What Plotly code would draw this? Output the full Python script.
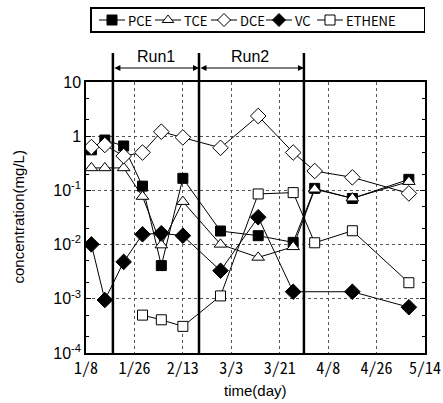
import datetime as _dt
import plotly.graph_objects as go

YEAR = "2007"
dates_md = ["01-10", "01-15", "01-22", "01-29", "02-05", "02-13", "02-27",
            "03-13", "03-26", "04-03", "04-17", "05-08"]
dates = [f"{YEAR}-{d}" for d in dates_md]

pce = [0.56, 0.85, 0.66, 0.12, 0.0041, 0.167, 0.0178, 0.0146, 0.011, 0.109, 0.071, 0.16]
tce = [0.26, 0.26, 0.26, 0.077, 0.0098, 0.062, 0.0101, 0.0058, 0.0091, 0.105, 0.072, 0.145]
dce = [0.63, 0.69, 0.43, 0.50, 1.21, 0.95, 0.61, 2.36, 0.50, 0.228, 0.174, 0.088]
vc = [0.0101, 0.00095, 0.0048, 0.0155, 0.0162, 0.0146, 0.0033, 0.032, 0.00135, None, 0.00135, 0.0007]
ethene = [None, None, None, 0.0005, 0.00041, 0.00031, 0.00113, 0.086, 0.091, 0.0108, 0.018, 0.00198]

tick_md = ["01-08", "01-26", "02-13", "03-03", "03-21", "04-08", "04-26", "05-14"]
tick_labels = ["1/8", "1/26", "2/13", "3/3", "3/21", "4/8", "4/26", "5/14"]
tick_dates = [f"{YEAR}-{d}" for d in tick_md]

run_bounds = [f"{YEAR}-01-18", f"{YEAR}-02-19", f"{YEAR}-03-30"]
run_labels = ["Run1", "Run2"]

y_tickvals = [1e-4, 1e-3, 1e-2, 1e-1, 1, 10]
y_ticktext = ["10<sup>-4</sup>", "10<sup>-3</sup>", "10<sup>-2</sup>", "10<sup>-1</sup>", "1", "10"]

series_names = ["PCE", "TCE", "DCE", "VC", "ETHENE"]
series_values = [pce, tce, dce, vc, ethene]
series_symbols = ["square", "triangle-up", "diamond", "diamond", "square"]
series_fills = ["black", "white", "white", "black", "white"]
series_sizes = [10, 11, 12, 12, 10]

# ---- layout constants (pixels) ----
PAPER_H = 353.0          # figure height minus bottom margin (top margin is 0)
PLOT_TOP = 82.0


def py(p):
    """pixel row -> paper y"""
    return (PAPER_H - p) / PAPER_H


leg_sym_center = [112, 168, 224, 279, 330]
leg_text_x = [126, 182, 238, 293, 344]
leg_half = 13
leg_y = 20
leg_box = (91, 8, 425, 32)

fig = go.Figure()
for name, vals, sym, fill, size in zip(series_names, series_values, series_symbols,
                                       series_fills, series_sizes):
    fig.add_trace(go.Scatter(
        x=dates, y=vals, name=name, mode="lines+markers", connectgaps=True,
        line=dict(color="black", width=1),
        marker=dict(symbol=sym, color=fill, size=size, line=dict(color="black", width=1)),
        xaxis="x", yaxis="y", showlegend=False,
    ))

# hand-made legend strip
for name, sym, fill, cx in zip(series_names, series_symbols, series_fills, leg_sym_center):
    fig.add_trace(go.Scatter(
        x=[cx - leg_half, cx + leg_half], y=[leg_y, leg_y], mode="lines",
        line=dict(color="black", width=1), xaxis="x2", yaxis="y2",
        showlegend=False, hoverinfo="skip"))
    fig.add_trace(go.Scatter(
        x=[cx], y=[leg_y], mode="markers",
        marker=dict(symbol=sym, color=fill, size=10, line=dict(color="black", width=1)),
        xaxis="x2", yaxis="y2", showlegend=False, hoverinfo="skip"))

shapes = []
for d in run_bounds:
    shapes.append(dict(type="line", xref="x", yref="paper", x0=d, x1=d, y0=0, y1=py(53),
                       line=dict(color="black", width=2.5)))
shapes.append(dict(type="rect", xref="x2", yref="y2", x0=leg_box[0], x1=leg_box[2],
                   y0=leg_box[1], y1=leg_box[3], line=dict(color="black", width=2)))

annotations = []
for i, lab in enumerate(run_labels):
    a, b = run_bounds[i], run_bounds[i + 1]
    annotations.append(dict(x=b, y=py(68), xref="x", yref="paper", ax=a, ay=0,
                            axref="x", ayref="pixel", text="", showarrow=True,
                            arrowhead=2, arrowside="end+start", arrowsize=1.2,
                            arrowwidth=1, arrowcolor="black"))
    da = _dt.date.fromisoformat(a)
    db = _dt.date.fromisoformat(b)
    mid = da + (db - da) / 2
    annotations.append(dict(x=mid.isoformat(), y=py(57), xref="x", yref="paper",
                            text=lab, showarrow=False, yanchor="middle",
                            font=dict(family="Liberation Sans, Arial", size=16, color="black")))

for name, tx in zip(series_names, leg_text_x):
    annotations.append(dict(x=tx, y=leg_y, xref="x2", yref="y2", text=name, showarrow=False,
                            xanchor="left", yanchor="middle",
                            font=dict(family="Noto Sans CJK JP", size=13, color="black")))

annotations.append(dict(x=(18 - 86) / 339, y=py((PLOT_TOP + PAPER_H) / 2), xref="paper", yref="paper",
                        text="concentration(mg/L)", textangle=-90, showarrow=False,
                        xanchor="center", yanchor="middle",
                        font=dict(family="Liberation Sans, Arial", size=15, color="black")))
annotations.append(dict(x=0.5, y=py(390), xref="paper", yref="paper", text="time(day)",
                        showarrow=False, xanchor="center", yanchor="middle",
                        font=dict(family="Liberation Sans, Arial", size=15, color="black")))

mono = "Noto Sans Mono CJK JP, Noto Sans CJK JP, DejaVu Sans Mono"

fig.update_layout(
    width=443, height=403,
    margin=dict(l=86, r=18, t=0, b=50, autoexpand=False),
    paper_bgcolor="white", plot_bgcolor="white",
    shapes=shapes, annotations=annotations,
    showlegend=False,
    xaxis=dict(
        type="date", range=[f"{YEAR}-01-08", f"{YEAR}-05-14"],
        tickvals=tick_dates, ticktext=tick_labels,
        tickfont=dict(family=mono, size=16, color="black"),
        showgrid=True, gridcolor="#555555", griddash="dot", gridwidth=1,
        showline=True, linecolor="black", linewidth=1.5, mirror=True,
        ticks="", zeroline=False, automargin=False, anchor="y",
    ),
    yaxis=dict(
        type="log", range=[-4, 1], domain=[0, py(PLOT_TOP)],
        tickvals=y_tickvals, ticktext=y_ticktext,
        tickfont=dict(family="Liberation Sans, Arial", size=16, color="black"),
        showgrid=True, gridcolor="#555555", griddash="dot", gridwidth=1,
        showline=True, linecolor="black", linewidth=1.5, mirror="ticks",
        ticks="inside", ticklen=5, tickcolor="black", tickwidth=1,
        minor=dict(ticks="inside", ticklen=3, tickcolor="black", tickwidth=1, showgrid=False),
        zeroline=False, automargin=False, anchor="x",
    ),
    xaxis2=dict(range=[86, 425], domain=[0, 1], anchor="y2", visible=False, fixedrange=True),
    yaxis2=dict(range=[40, 0], domain=[py(40), 1], anchor="x2", visible=False,
                fixedrange=True),
)

fig.write_html("out.html", config={"displayModeBar": False},
               post_script="document.body.style.margin='0px';document.body.style.overflow='hidden';")
